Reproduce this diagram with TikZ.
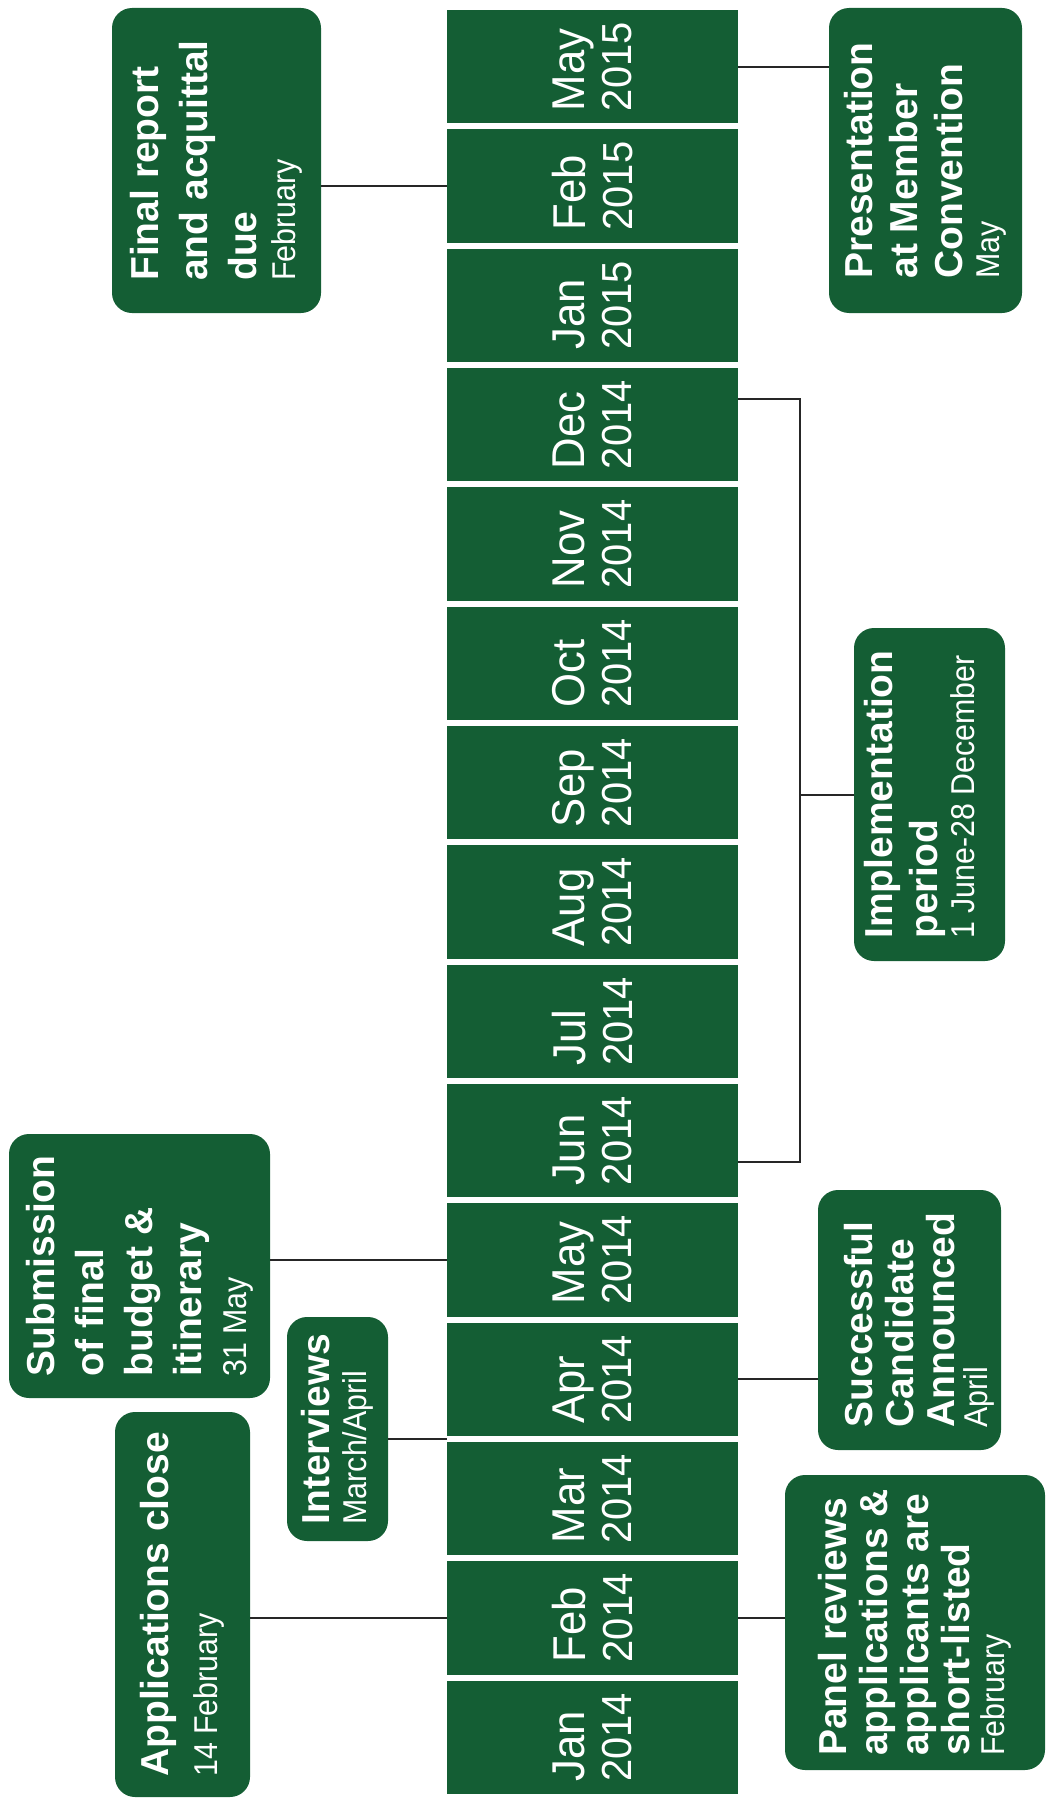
\documentclass[tikz,border=0pt]{standalone}
\usepackage{fontspec}
\setmainfont{Liberation Sans}
\newfontfamily\monthfam{Liberation Sans}[FakeStretch=0.95]
\newfontfamily\yearfam{Liberation Sans}[FakeStretch=0.95]
\newfontfamily\datefam{Liberation Sans}[FakeStretch=0.92]
\usetikzlibrary{calc}
\definecolor{tlgreen}{RGB}{20,94,52}
\newcommand\datefont{\datefam\mdseries\fontsize{16.5pt}{19.5pt}\selectfont}
\newcommand\yearfont{\yearfam\fontsize{21pt}{23.5pt}\selectfont}
\newcommand\monthfont{\monthfam\fontsize{23pt}{23.5pt}\selectfont}
\newcommand\titlefont[1]{\fontsize{19.5pt}{#1}\selectfont\bfseries}
\newcommand\shiftup[2]{\raisebox{#1}[\height][\depth]{#2}}
\setlength{\lineskiplimit}{-20pt}
\begin{document}
\begin{tikzpicture}[x=0.5pt,y=-0.5pt,
  cell/.style={rotate=90, fill=tlgreen, text=white, inner sep=0pt,
    minimum width=56.67pt, minimum height=145.5pt, align=left,
    font=\monthfont},
  evbox/.style={rotate=90, fill=tlgreen, text=white, rounded corners=10pt,
    inner sep=0pt, align=left, font=\titlefont{24.5pt}},
  tight/.style={font=\titlefont{20.5pt}},
  mid/.style={font=\titlefont{22.5pt}},
  conn/.style={draw=black!85, line width=1pt}]
\useasboundingbox (0,0) rectangle (1055,1798);

% timeline cells
\foreach \m/\yr [count=\k from 0] in {May/2015,Feb/2015,Jan/2015,Dec/2014,Nov/2014,Oct/2014,Sep/2014,Aug/2014,Jul/2014,Jun/2014,May/2014,Apr/2014,Mar/2014,Feb/2014,Jan/2014}
  \node[cell] (c\k) at (592.5,{66.67+119.33*\k}) {\m\\{\yearfont \yr}};

% event boxes
\node[evbox, minimum width=152.5pt, minimum height=104.5pt] (fin) at (216.5,160.5)
  {Final report\\and acquittal\\due\\[-5pt]\datefont February};
\node[evbox, mid, minimum width=152.5pt, minimum height=96.5pt] (pres) at (925.5,160.5)
  {Presentation\\at Member\\Convention\\[-4pt]\datefont May};
\node[evbox, mid, minimum width=166.5pt, minimum height=75.5pt] (impl) at (929.5,794.5)
  {\shiftup{5pt}{Implementation}\\\shiftup{5pt}{period}\\[-4pt]\shiftup{5pt}{\datefont 1 June-28 December}};
\node[evbox, minimum width=132pt, minimum height=130.5pt] (sub) at (139.5,1266)
  {Submission\\of final\\budget \&\\itinerary\\[-2pt]\datefont 31 May};
\node[evbox, minimum width=112pt, minimum height=50.5pt] (intv) at (337.5,1429)
  {Interviews\\[-6pt]\datefont March/April};
\node[evbox, minimum width=192.5pt, minimum height=67.5pt] (app) at (182.5,1604.5)
  {Applications close\\\datefont 14 February};
\node[evbox, tight, minimum width=130pt, minimum height=91.5pt] (succ) at (909.5,1320)
  {\shiftup{-5pt}{Successful}\\\shiftup{-5pt}{Candidate}\\\shiftup{-5pt}{Announced}\\[-4pt]\shiftup{-5pt}{\datefont April}};
\node[evbox, tight, minimum width=147.5pt, minimum height=130pt] (panel) at (915,1622.5)
  {Panel reviews\\applications \&\\applicants are\\short-listed\\[-3pt]\datefont February};

% connectors
\draw[conn] (c1.north) -- (c1.north -| fin.south);
\draw[conn] (c0.south) -- (c0.south -| pres.north);
\draw[conn] (c10.north) -- (c10.north -| sub.south);
\coordinate (sepMA) at ($(c11.north)!0.5!(c12.north)$);
\draw[conn] (sepMA) -- (sepMA -| intv.south);
\draw[conn] (c13.north) -- (c13.north -| app.south);
\draw[conn] (c11.south) -- (c11.south -| succ.north);
\draw[conn] (c13.south) -- (c13.south -| panel.north);

% implementation bracket
\coordinate (brkT) at ([xshift=31pt,yshift=12.8pt]c3.south);
\coordinate (brkB) at ([xshift=31pt,yshift=-10.7pt]c9.south);
\draw[conn] ([yshift=12.8pt]c3.south) -- (brkT) -- (brkB) -- ([yshift=-10.7pt]c9.south);
\draw[conn] (impl.north) -- (impl.north -| brkT);
\end{tikzpicture}
\end{document}
